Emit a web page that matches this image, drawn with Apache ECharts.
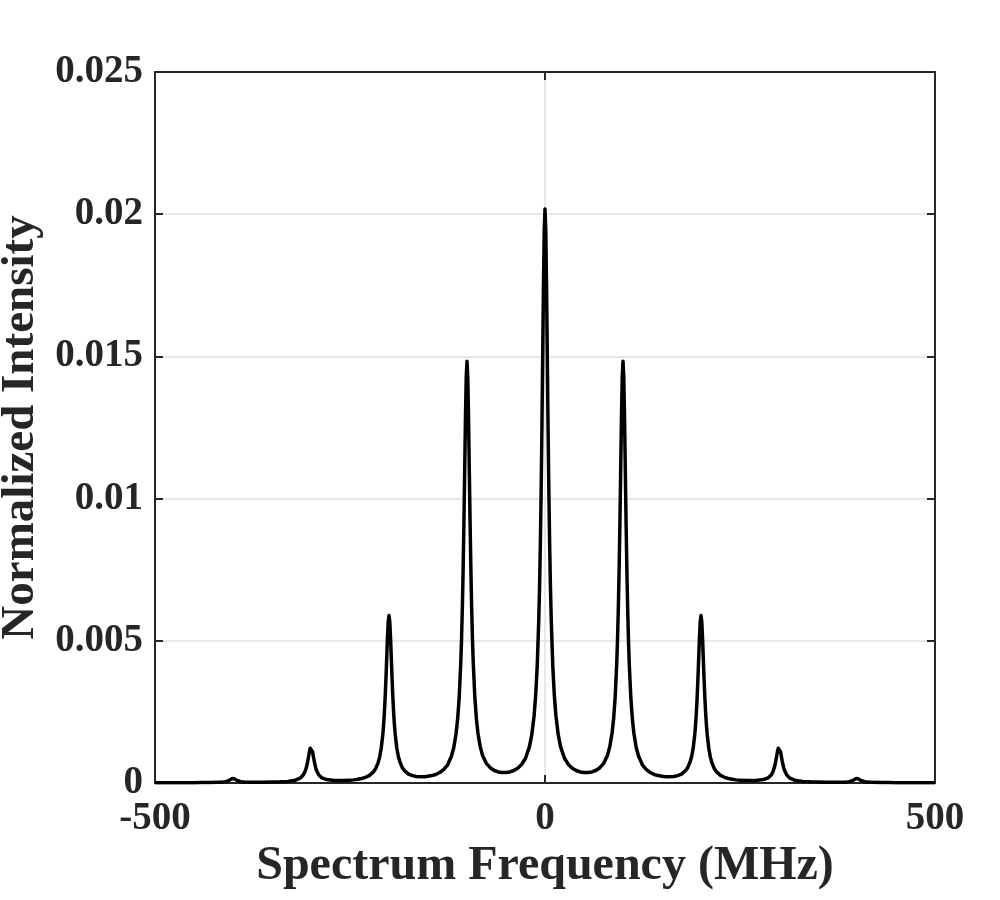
<!DOCTYPE html>
<html>
<head>
<meta charset="utf-8">
<script src="https://cdn.jsdelivr.net/npm/echarts@6/dist/echarts.min.js"></script>
<style>
html,body{margin:0;padding:0;background:#fff;}
#chart{width:1000px;height:900px;}
</style>
</head>
<body>
<div id="chart"></div>
<script>
// Spectrum frequency (MHz) and normalized intensity
var freq = [
 -500,-475,-450,-440,-430,-420,-414,-410,-407,-405,-404,-403,-402,-401,-400,-399,-398,-397,-396,-395,-393,-390,-386,-380,-370,-360,-350,-340,-330,-320,
 -314,-312,-310,-308,-307,-306,-305,-304,-303,-302,-301,-300,-299,-298,-297,-296,-295,-294,-293,-292,-290,-288,-286,-280,-270,-260,
 -250,-245,-240,-235,-230,-225,-220,-217,-214,-212,-210,-208,-207,-206,-205,-204,-203,-202,-201,-200,-199,-198,-197,-196,-195,-194,-193,-192,-190,-188,-186,-183,-180,-175,-170,-165,-160,-155,
 -150,-145,-140,-135,-130,-125,-120,-117,-114,-112,-110,-108,-107,-106,-105,-104,-103,-102,-101,-100,-99,-98,-97,-96,-95,-94,-93,-92,-90,-88,-86,-83,-80,-75,-70,-65,-60,-55,
 -50,-45,-40,-35,-30,-25,-20,-17,-14,-12,-10,-8,-7,-6,-5,-4,-3,-2,-1,
 0,
 1,2,3,4,5,6,7,8,10,12,14,17,20,25,30,35,40,45,
 50,55,60,65,70,75,80,83,86,88,90,92,93,94,95,96,97,98,99,100,101,102,103,104,105,106,107,108,110,112,114,117,120,125,130,135,140,145,
 150,155,160,165,170,175,180,183,186,188,190,192,193,194,195,196,197,198,199,200,201,202,203,204,205,206,207,208,210,212,214,217,220,225,230,235,240,245,
 250,260,270,280,286,288,290,292,293,294,295,296,297,298,299,300,301,302,303,304,305,306,307,308,310,312,314,
 320,330,340,350,360,370,380,386,390,393,395,396,397,398,399,400,401,402,403,404,405,407,410,414,420,430,440,450,475,500
];
var intensity = [
 0.000008,0.000011,0.000012,0.000014,0.000017,0.000022,0.000031,0.000045,0.000066,0.000091,0.00011,0.000126,0.000145,0.00016,0.000166,0.000161,0.000146,0.000127,0.00011,0.000092,0.000068,0.000048,0.000035,0.000028,0.000026,0.000028,0.000033,0.000041,0.000057,0.00010,
 0.00017,0.00021,0.00028,0.00038,0.00045,0.00054,0.00065,0.00079,0.00094,0.00110,0.00122,0.00127,0.00122,0.00110,0.00094,0.00079,0.00065,0.00054,0.00045,0.00038,0.00028,0.00022,0.00018,0.00012,0.000087,0.000085,
 0.00010,0.00011,0.00013,0.00016,0.00020,0.00027,0.00039,0.00051,0.00071,0.00091,0.00122,0.00169,0.00202,0.00244,0.00297,0.00361,0.00434,0.00508,0.00566,0.00589,0.00566,0.00509,0.00435,0.00362,0.00298,0.00245,0.00203,0.00170,0.00123,0.00093,0.00074,0.00054,0.00043,0.00031,0.00026,0.00023,0.00022,0.00022,
 0.00024,0.00026,0.00030,0.00037,0.00047,0.00063,0.00094,0.00124,0.00174,0.00225,0.00302,0.00421,0.00506,0.00612,0.00745,0.00907,0.01092,0.01279,0.01426,0.01483,0.01426,0.01279,0.01093,0.00908,0.00746,0.00613,0.00507,0.00423,0.00304,0.00227,0.00176,0.00127,0.00097,0.00068,0.00053,0.00044,0.00039,0.00037,
 0.00037,0.00039,0.00044,0.00052,0.00065,0.00087,0.00127,0.00169,0.00236,0.00306,0.00410,0.00573,0.00687,0.00832,0.01013,0.01234,0.01486,0.01741,0.01941,
 0.02018,
 0.01941,0.01741,0.01486,0.01234,0.01013,0.00832,0.00687,0.00573,0.00410,0.00306,0.00236,0.00169,0.00127,0.00087,0.00065,0.00052,0.00044,0.00039,
 0.00037,0.00037,0.00039,0.00044,0.00053,0.00068,0.00097,0.00127,0.00176,0.00227,0.00304,0.00423,0.00507,0.00613,0.00746,0.00908,0.01093,0.01279,0.01426,0.01483,0.01426,0.01279,0.01092,0.00907,0.00745,0.00612,0.00506,0.00421,0.00302,0.00225,0.00174,0.00124,0.00094,0.00063,0.00047,0.00037,0.00030,0.00026,
 0.00024,0.00022,0.00022,0.00023,0.00026,0.00031,0.00043,0.00054,0.00074,0.00093,0.00123,0.00170,0.00203,0.00245,0.00298,0.00362,0.00435,0.00509,0.00566,0.00589,0.00566,0.00508,0.00434,0.00361,0.00297,0.00244,0.00202,0.00169,0.00122,0.00091,0.00071,0.00051,0.00039,0.00027,0.00020,0.00016,0.00013,0.00011,
 0.00010,0.000085,0.000087,0.00012,0.00018,0.00022,0.00028,0.00038,0.00045,0.00054,0.00065,0.00079,0.00094,0.00110,0.00122,0.00127,0.00122,0.00110,0.00094,0.00079,0.00065,0.00054,0.00045,0.00038,0.00028,0.00021,0.00017,
 0.00010,0.000057,0.000041,0.000033,0.000028,0.000026,0.000028,0.000035,0.000048,0.000068,0.000092,0.00011,0.000127,0.000146,0.000161,0.000166,0.00016,0.000145,0.000126,0.00011,0.000091,0.000066,0.000045,0.000031,0.000022,0.000017,0.000014,0.000012,0.000011,0.000008
];
var xTickValues = [-500, 0, 500];
var xTickLabels = ['-500', '0', '500'];
var yTickValues = [0, 0.005, 0.01, 0.015, 0.02, 0.025];
var yTickLabels = ['0', '0.005', '0.01', '0.015', '0.02', '0.025'];
var xTitle = 'Spectrum Frequency (MHz)';
var yTitle = 'Normalized Intensity';

var data = freq.map(function (f, i) { return [f, intensity[i]]; });
function lab(values, labels) {
  return function (v) {
    for (var i = 0; i < values.length; i++) { if (Math.abs(values[i] - v) < 1e-9) return labels[i]; }
    return '';
  };
}
var FONT = '"Liberation Serif","Times New Roman",serif';
var INK = '#262626';
var axisLine = { show: true, onZero: false, lineStyle: { color: INK, width: 2 } };
var tick = { show: true, inside: true, length: 8, lineStyle: { color: INK, width: 2 } };
var chart = echarts.init(document.getElementById('chart'), null, { renderer: 'canvas' });
chart.setOption({
  animation: false,
  backgroundColor: '#ffffff',
  grid: { left: 155, right: 65, top: 72, bottom: 117, containLabel: false, outerBoundsMode: 'none' },
  xAxis: [{
    type: 'value', min: -500, max: 500, interval: 500, position: 'bottom',
    axisLine: axisLine, axisTick: tick,
    axisLabel: { formatter: lab(xTickValues, xTickLabels), color: INK, fontFamily: FONT, fontWeight: 'bold', fontSize: 39, margin: 16 },
    splitLine: { show: true, lineStyle: { color: '#e0e0e0', width: 1.5 } },
    name: xTitle, nameLocation: 'middle', nameGap: 52,
    nameTextStyle: { color: INK, fontFamily: FONT, fontWeight: 'bold', fontSize: 48, verticalAlign: 'top' }
  }, {
    type: 'value', min: -500, max: 500, interval: 500, position: 'top',
    axisLine: axisLine, axisTick: tick,
    axisLabel: { show: false }, splitLine: { show: false }
  }],
  yAxis: [{
    type: 'value', min: 0, max: 0.025, interval: 0.005, position: 'left',
    axisLine: axisLine, axisTick: tick,
    axisLabel: { formatter: lab(yTickValues, yTickLabels), color: INK, fontFamily: FONT, fontWeight: 'bold', fontSize: 39, margin: 12 },
    splitLine: { show: true, lineStyle: { color: '#e0e0e0', width: 1.5 } },
    name: yTitle, nameLocation: 'middle', nameGap: 105, nameRotate: 90,
    nameTextStyle: { color: INK, fontFamily: FONT, fontWeight: 'bold', fontSize: 47 }
  }, {
    type: 'value', min: 0, max: 0.025, interval: 0.005, position: 'right',
    axisLine: axisLine, axisTick: tick,
    axisLabel: { show: false }, splitLine: { show: false }
  }],
  series: [{
    type: 'line', data: data, xAxisIndex: 0, yAxisIndex: 0,
    showSymbol: false, symbol: 'none', smooth: false,
    lineStyle: { color: '#000000', width: 3.5, join: 'round' },
    z: 3
  }]
});
</script>
</body>
</html>
